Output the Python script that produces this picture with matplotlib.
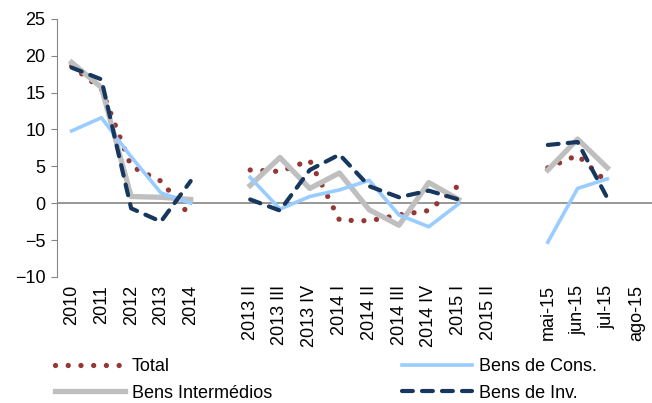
import matplotlib.pyplot as plt
import numpy as np

plt.rcParams['font.family'] = ['Liberation Sans', 'DejaVu Sans']

nan = np.nan
labels = ['2010', '2011', '2012', '2013', '2014', '',
          '2013 II', '2013 III', '2013 IV', '2014 I', '2014 II', '2014 III',
          '2014 IV', '2015 I', '2015 II', '',
          'mai-15', 'jun-15', 'jul-15', 'ago-15']

total = [18.6, 15.5, 5.0, 3.0, -1.8, nan,
         4.5, 4.3, 5.8, -2.3, -2.4, -1.6, -1.0, 2.4, nan, nan,
         4.8, 6.5, 2.8, nan]
bens_cons = [9.8, 11.6, 6.3, 1.4, 0.0, nan,
             3.5, -0.8, 0.9, 1.8, 3.1, -1.6, -3.2, -0.1, nan, nan,
             -5.3, 2.0, 3.3, nan]
bens_int = [19.1, 15.7, 0.9, 0.8, 0.5, nan,
            2.4, 6.2, 2.0, 4.1, -0.9, -3.0, 2.8, 0.5, nan, nan,
            4.5, 8.7, 4.8, nan]
bens_inv = [18.4, 16.8, -0.7, -2.5, 3.0, nan,
            0.5, -1.0, 4.5, 6.6, 2.3, 0.8, 1.7, 0.5, nan, nan,
            7.9, 8.3, 0.7, nan]

x = np.arange(len(labels))
AX_CLR = '#868686'
FS = 13

fig = plt.figure(figsize=(6.52, 4.03), dpi=100)
ax = fig.add_axes([0.087, 0.313, 0.913, 0.64])

l_tot, = ax.plot(x, total, color='#953735', lw=3.8, ls=(0, (0.01, 2.4)),
                 dash_capstyle='round', label='Total')
l_int, = ax.plot(x, bens_int, color='#BFBFBF', lw=3.8, label='Bens Intermédios')
l_cons, = ax.plot(x, bens_cons, color='#99CCFF', lw=2.6, label='Bens de Cons.')
l_inv, = ax.plot(x, bens_inv, color='#17375E', lw=3.0, ls=(0, (2.6, 2.2)),
                 dash_capstyle='round', label='Bens de Inv.')

ax.axhline(0, color=AX_CLR, lw=1.2, zorder=0)
ax.set_xlim(-0.5, len(labels) - 0.5)
ax.set_ylim(-10, 25)
ax.set_yticks(np.arange(-10, 26, 5))
ax.set_xticks(x)
ax.set_xticklabels(labels, rotation=90, fontsize=FS)
ax.tick_params(axis='x', length=0, pad=6)
ax.tick_params(axis='y', length=4, color=AX_CLR, labelsize=FS, pad=4)
for s in ['top', 'right', 'bottom']:
    ax.spines[s].set_visible(False)
ax.spines['left'].set_color(AX_CLR)

fig.legend(handles=[l_tot, l_int, l_cons, l_inv], ncol=2, frameon=False,
           loc='upper left', bbox_to_anchor=(0.0844, 0.112), fontsize=FS,
           handlelength=3.9, handletextpad=0.35, columnspacing=7.2,
           labelspacing=0.55, borderpad=0, borderaxespad=0)

fig.savefig('out.png', dpi=100)
